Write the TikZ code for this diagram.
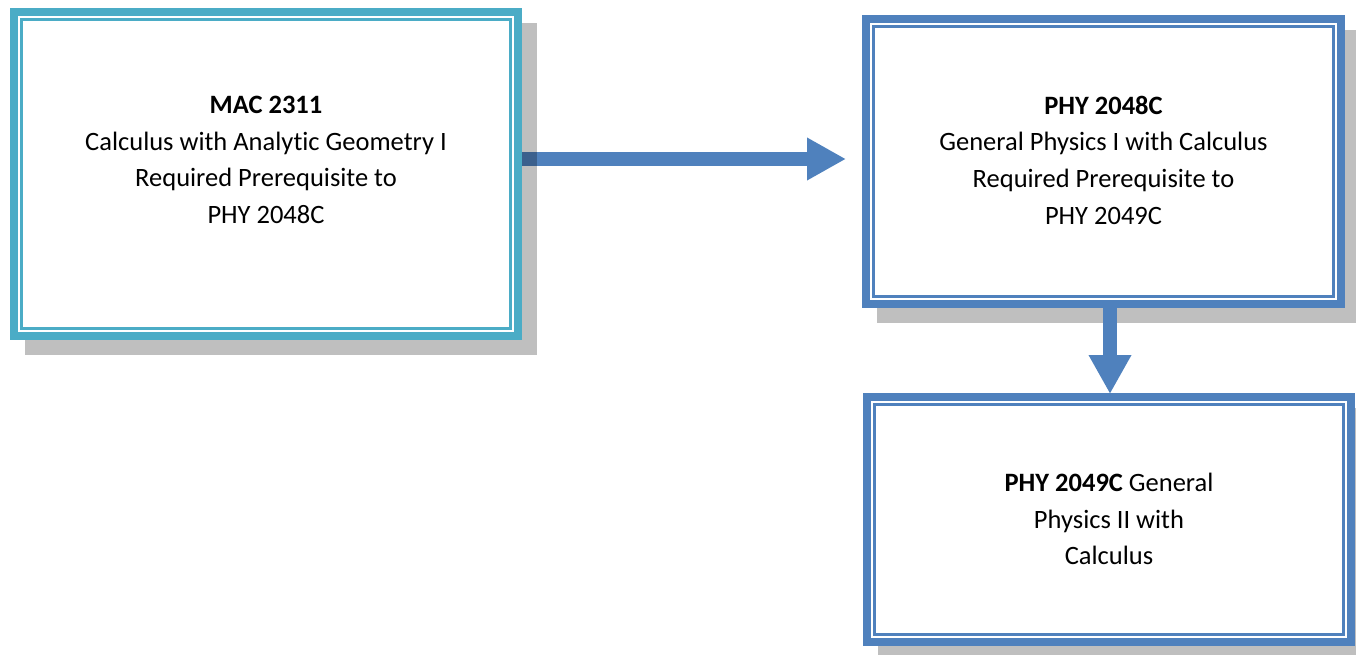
\documentclass[tikz,border=0pt]{standalone}
\usepackage{fontspec}
\setmainfont{Carlito}[Ligatures=CommonOff]
\usetikzlibrary{arrows.meta,calc}
\definecolor{teal5}{HTML}{4BACC6}
\definecolor{blue1}{HTML}{4F81BD}
\pgfdeclarelayer{bg}
\pgfdeclarelayer{shade}
\pgfdeclarelayer{mid}
\pgfsetlayers{bg,shade,mid,main}
\begin{document}
\begin{tikzpicture}[x=1pt,y=-1pt,
  box/.style={rectangle,inner sep=0pt,outer sep=0pt,line width=8pt,fill=white},
  inner/.style={line width=3pt},
  txt/.style={align=center,font=\fontsize{26.5}{36.7}\selectfont,inner sep=0pt},
  fat/.style={line width=14pt,draw=blue1,-{Triangle[length=39pt 0 0,width=40pt 0 0,fill=blue1]}},
  shadowbox/.style={fill=black,fill opacity=0.25}]
\useasboundingbox (0,0) rectangle (1356,655);

% boxes
\node[box,draw=teal5,minimum width=504pt,minimum height=324pt] (b1) at (266,174) {};
\draw[inner,teal5] ($(b1.north west)+(7.5,7.5)$) rectangle ($(b1.south east)+(-7.5,-7.5)$);
\node[box,draw=blue1,minimum width=475pt,minimum height=285pt] (b2) at (1103.5,161.5) {};
\draw[inner,blue1] ($(b2.north west)+(7.5,7.5)$) rectangle ($(b2.south east)+(-7.5,-7.5)$);
\node[box,draw=blue1,minimum width=484pt,minimum height=245pt] (b3) at (1109,519.5) {};
\draw[inner,blue1] ($(b3.north west)+(7.5,7.5)$) rectangle ($(b3.south east)+(-7.5,-7.5)$);

% texts
\node[txt] (t1) at ($(b1.center)+(0,-14)$) {\textbf{MAC 2311}\\Calculus with Analytic Geometry I\\Required Prerequisite to\\PHY 2048C};
\node[txt] (t2) at ($(b2.center)+(0,-1.5)$) {\textbf{PHY 2048C}\\General Physics I with Calculus\\Required Prerequisite to\\PHY 2049C};
\node[txt] (t3) at ($(b3.center)+(0,-0.5)$) {\textbf{PHY 2049C} General\\Physics II with\\Calculus};

% shadows
\begin{pgfonlayer}{shade}
\fill[shadowbox] ($(b1.north west)+(11,11)$) rectangle ($(b1.south east)+(19,19)$);
\fill[shadowbox] ($(b2.north west)+(11,11)$) rectangle ($(b2.south east)+(19,19)$);
\fill[shadowbox] ($(b3.north west)+(11,11)$) rectangle ($(b3.south east)+(19,19)$);
\end{pgfonlayer}

% arrows
\begin{pgfonlayer}{bg}
\draw[fat] ($(b1.east)+(4,-15)$) -- ($(b2.west)+(-20,-2.5)$);
\end{pgfonlayer}
\begin{pgfonlayer}{mid}
\coordinate (a2s) at ($(b2.south)+(6.5,4)$);
\draw[fat] (a2s) -- ($(a2s |- b3.north)+(0,-3)$);
\end{pgfonlayer}
\end{tikzpicture}
\end{document}
